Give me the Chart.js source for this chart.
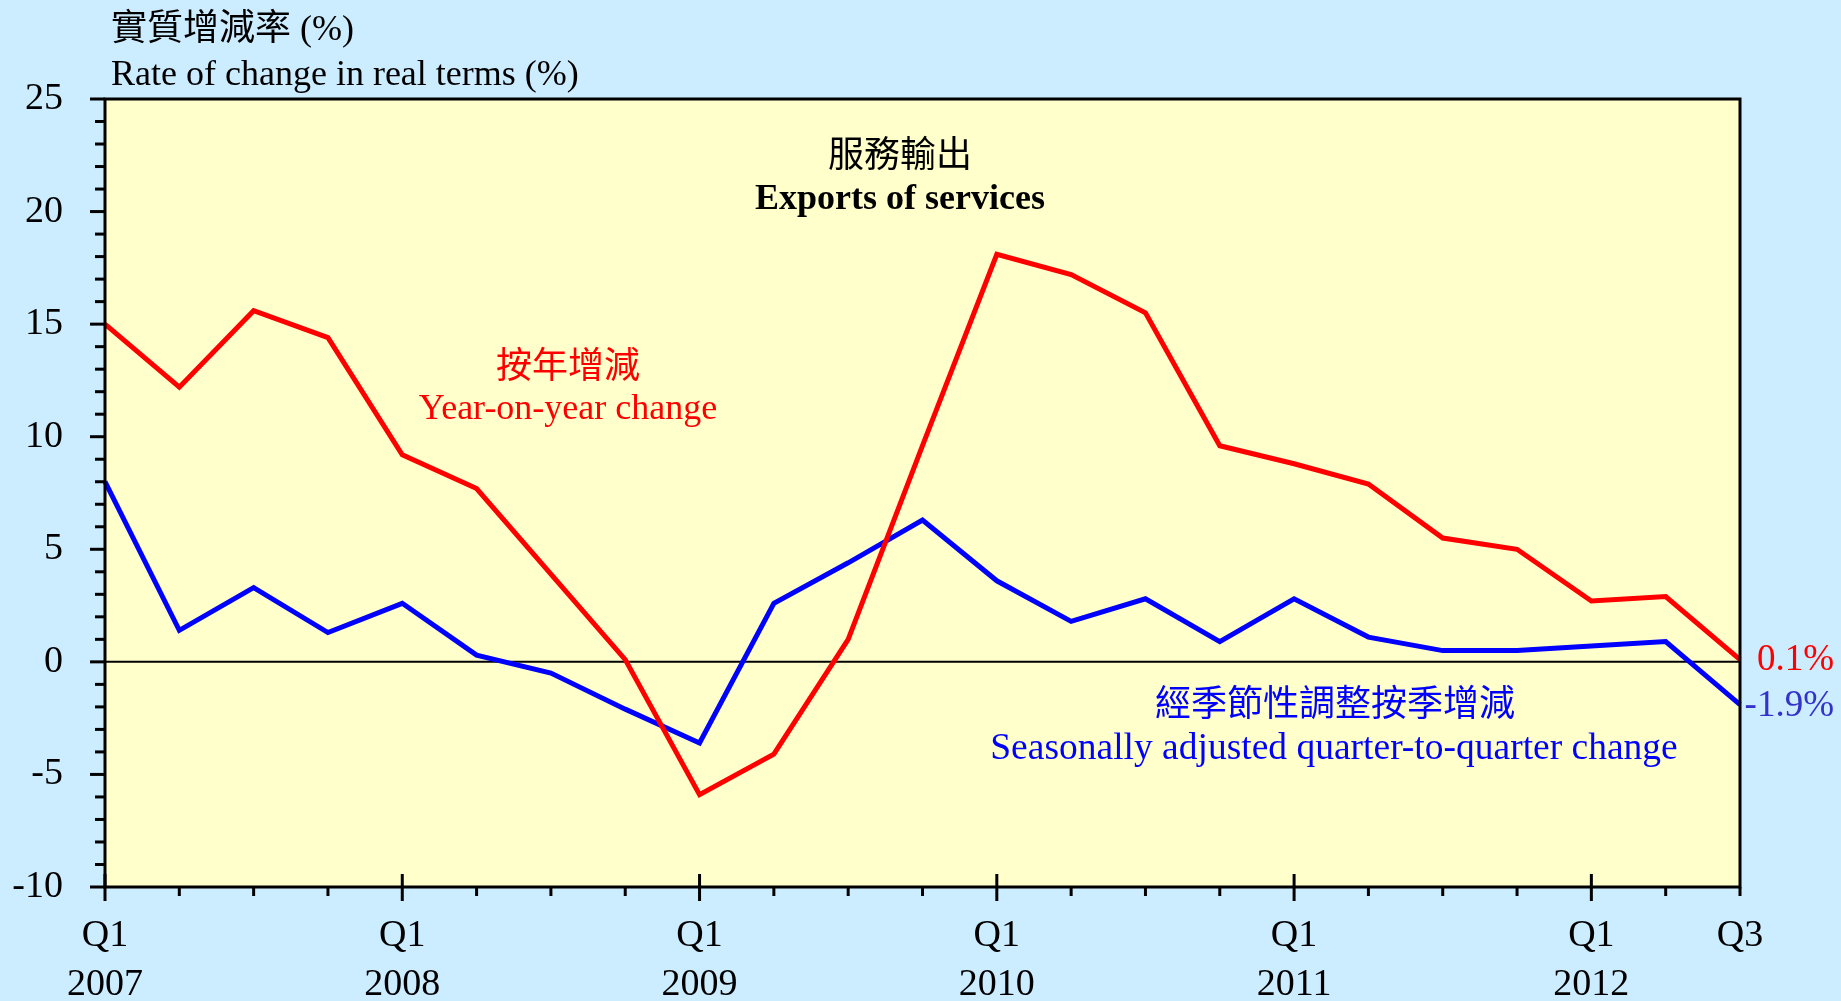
<!DOCTYPE html>
<html>
<head>
<meta charset="utf-8">
<script src="https://cdn.jsdelivr.net/npm/chart.js@4/dist/chart.umd.min.js"></script>
<style>
  html, body { margin: 0; padding: 0; background: #CCECFF; }
  #wrap { width: 1841px; height: 1001px; }
</style>
</head>
<body>
<div id="wrap"><canvas id="servicesChart" width="1841" height="1001"></canvas></div>
<script>
// quarters 2007 Q1 .. 2012 Q3
var quarters = ['2007Q1', '2007Q2', '2007Q3', '2007Q4', '2008Q1', '2008Q2', '2008Q3', '2008Q4',
                '2009Q1', '2009Q2', '2009Q3', '2009Q4', '2010Q1', '2010Q2', '2010Q3', '2010Q4',
                '2011Q1', '2011Q2', '2011Q3', '2011Q4', '2012Q1', '2012Q2', '2012Q3'];
// year-on-year change (%)
var yoyChange = [15.0, 12.2, 15.6, 14.4, 9.2, 7.7, 3.9, 0.1,
                 -5.9, -4.1, 1.0, 9.6, 18.1, 17.2, 15.5, 9.6,
                 8.8, 7.9, 5.5, 5.0, 2.7, 2.9, 0.1];
// seasonally adjusted quarter-to-quarter change (%)
var qoqChange = [8.0, 1.4, 3.3, 1.3, 2.6, 0.3, -0.5, -2.1,
                 -3.6, 2.6, 4.4, 6.3, 3.6, 1.8, 2.8, 0.9,
                 2.8, 1.1, 0.5, 0.5, 0.7, 0.9, -1.9];
var xTickLabels = [['Q1', '2007'], '', '', '', ['Q1', '2008'], '', '', '',
                   ['Q1', '2009'], '', '', '', ['Q1', '2010'], '', '', '',
                   ['Q1', '2011'], '', '', '', ['Q1', '2012'], '', 'Q3'];
var yTicks = [-10, -5, 0, 5, 10, 15, 20, 25];

var serif = '"Liberation Serif", "Times New Roman", serif';
var cjk = '"Liberation Serif", "Noto Sans CJK TC", serif';

// background, zero line, frame, tick marks and texts
var decor = {
    id: 'decor',
    beforeDraw: function (chart) {
        var ctx = chart.ctx, a = chart.chartArea;
        ctx.save();
        ctx.fillStyle = '#CCECFF';
        ctx.fillRect(0, 0, chart.width, chart.height);
        ctx.fillStyle = '#FFFFCC';
        ctx.fillRect(a.left, a.top, a.right - a.left, a.bottom - a.top);
        ctx.restore();
    },
    beforeDatasetsDraw: function (chart) {
        var ctx = chart.ctx, a = chart.chartArea;
        var y0 = chart.scales.y.getPixelForValue(0);
        ctx.save();
        ctx.strokeStyle = '#000';
        ctx.lineWidth = 2;
        ctx.beginPath();
        ctx.moveTo(a.left, y0);
        ctx.lineTo(a.right, y0);
        ctx.stroke();
        ctx.restore();
    },
    afterDraw: function (chart) {
        var ctx = chart.ctx, a = chart.chartArea;
        var xs = chart.scales.x, ys = chart.scales.y;
        ctx.save();
        ctx.strokeStyle = '#000';
        ctx.lineWidth = 3;
        ctx.strokeRect(a.left, a.top, a.right - a.left, a.bottom - a.top);

        // y ticks: minor every 1, major every 5
        for (var v = ys.min; v <= ys.max; v++) {
            var py = ys.getPixelForValue(v);
            var len = (v % 5 === 0) ? 15 : 10;
            ctx.beginPath();
            ctx.moveTo(a.left - len, py);
            ctx.lineTo(a.left, py);
            ctx.stroke();
        }
        // x ticks: Q1 crosses the axis, others point down
        for (var i = 0; i < quarters.length; i++) {
            var px = xs.getPixelForValue(i);
            ctx.beginPath();
            if (quarters[i].slice(-2) === 'Q1') {
                ctx.moveTo(px, a.bottom - 13);
                ctx.lineTo(px, a.bottom + 14);
            } else {
                ctx.moveTo(px, a.bottom);
                ctx.lineTo(px, a.bottom + 9);
            }
            ctx.stroke();
        }

        ctx.textBaseline = 'middle';
        // axis title
        ctx.fillStyle = '#000';
        ctx.textAlign = 'left';
        ctx.font = '36px ' + cjk;
        ctx.fillText('實質增減率 (%)', 111, 31);
        ctx.font = '36px ' + serif;
        ctx.fillText('Rate of change in real terms (%)', 111, 76);

        // chart title
        ctx.textAlign = 'center';
        ctx.font = '36px ' + cjk;
        ctx.fillText('服務輸出', 900, 158);
        ctx.font = 'bold 36px ' + serif;
        ctx.fillText('Exports of services', 900, 200);

        // series labels
        ctx.fillStyle = '#FF0000';
        ctx.font = '36px ' + cjk;
        ctx.fillText('按年增減', 568, 369);
        ctx.font = '36px ' + serif;
        ctx.fillText('Year-on-year change', 568, 410);

        ctx.fillStyle = '#0000FF';
        ctx.font = '36px ' + cjk;
        ctx.fillText('經季節性調整按季增減', 1335, 707);
        ctx.font = '37.5px ' + serif;
        ctx.fillText('Seasonally adjusted quarter-to-quarter change', 1334, 749);

        // end values
        var last = quarters.length - 1;
        ctx.textAlign = 'right';
        ctx.font = '37px ' + serif;
        ctx.fillStyle = '#FF0000';
        ctx.fillText(yoyChange[last].toFixed(1) + '%', a.right + 94, ys.getPixelForValue(yoyChange[last]) + 1);
        ctx.fillStyle = '#3333CC';
        ctx.fillText(qoqChange[last].toFixed(1) + '%', a.right + 94, ys.getPixelForValue(qoqChange[last]) + 2);
        ctx.restore();
    }
};

var ctx = document.getElementById('servicesChart').getContext('2d');
var servicesChart = new Chart(ctx, {
    type: 'line',
    data: {
        labels: quarters,
        datasets: [{
            label: 'Year-on-year change',
            data: yoyChange,
            borderColor: '#FF0000',
            borderWidth: 5,
            pointRadius: 0,
            tension: 0,
            fill: false
        }, {
            label: 'Seasonally adjusted quarter-to-quarter change',
            data: qoqChange,
            borderColor: '#0000FF',
            borderWidth: 5,
            pointRadius: 0,
            tension: 0,
            fill: false
        }]
    },
    options: {
        responsive: false,
        animation: false,
        devicePixelRatio: 1,
        layout: { padding: { left: 0, right: 101, top: 99, bottom: 0 } },
        plugins: { legend: { display: false }, tooltip: { enabled: false } },
        scales: {
            x: {
                type: 'category',
                offset: false,
                grid: { display: true, drawOnChartArea: false, drawTicks: false, color: 'rgba(0,0,0,0)' },
                border: { display: false },
                ticks: {
                    autoSkip: false,
                    maxRotation: 0,
                    padding: 24,
                    color: '#000',
                    font: { family: serif, size: 38, lineHeight: 1.3 },
                    callback: function (value, index) { return xTickLabels[index]; }
                },
                afterFit: function (scale) { scale.height = 114; }
            },
            y: {
                min: yTicks[0],
                max: yTicks[yTicks.length - 1],
                grid: { display: true, drawOnChartArea: false, drawTicks: false, color: 'rgba(0,0,0,0)' },
                border: { display: false },
                ticks: {
                    stepSize: 5,
                    padding: 42,
                    color: '#000',
                    font: { family: serif, size: 38 }
                },
                afterFit: function (scale) { scale.width = 105; }
            }
        }
    },
    plugins: [decor]
});
</script>
</body>
</html>
